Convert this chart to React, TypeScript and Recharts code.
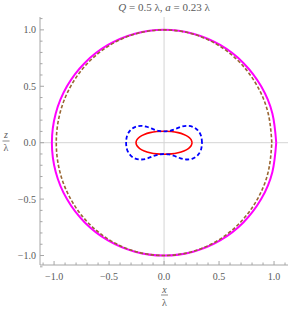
import React from 'react';
import { ScatterChart, Scatter, XAxis, YAxis, ReferenceLine } from 'recharts';

// tick values (major every 0.5, minor every 0.1)
const tickValues = [-1.1, -1, -0.9, -0.8, -0.7, -0.6, -0.5, -0.4, -0.3, -0.2, -0.1, 0, 0.1, 0.2, 0.3, 0.4, 0.5, 0.6, 0.7, 0.8, 0.9, 1, 1.1];

// outer solid curve (magenta)
const magentaCurve = [
  { x: 1.02, y: 0 }, { x: 0.985, y: 0.259 }, { x: 0.883, y: 0.5 }, { x: 0.721, y: 0.707 },
  { x: 0.51, y: 0.866 }, { x: 0.264, y: 0.966 }, { x: 0, y: 1 }, { x: -0.264, y: 0.966 },
  { x: -0.51, y: 0.866 }, { x: -0.721, y: 0.707 }, { x: -0.883, y: 0.5 }, { x: -0.985, y: 0.259 },
  { x: -1.02, y: 0 }, { x: -0.985, y: -0.259 }, { x: -0.883, y: -0.5 }, { x: -0.721, y: -0.707 },
  { x: -0.51, y: -0.866 }, { x: -0.264, y: -0.966 }, { x: 0, y: -1 }, { x: 0.264, y: -0.966 },
  { x: 0.51, y: -0.866 }, { x: 0.721, y: -0.707 }, { x: 0.883, y: -0.5 }, { x: 0.985, y: -0.259 },
  { x: 1.02, y: 0 },
];

// outer dashed curve (brown)
const brownCurve = [
  { x: 0.98, y: 0 }, { x: 0.947, y: 0.259 }, { x: 0.849, y: 0.5 }, { x: 0.693, y: 0.707 },
  { x: 0.49, y: 0.866 }, { x: 0.254, y: 0.966 }, { x: 0, y: 1 }, { x: -0.254, y: 0.966 },
  { x: -0.49, y: 0.866 }, { x: -0.693, y: 0.707 }, { x: -0.849, y: 0.5 }, { x: -0.947, y: 0.259 },
  { x: -0.98, y: 0 }, { x: -0.947, y: -0.259 }, { x: -0.849, y: -0.5 }, { x: -0.693, y: -0.707 },
  { x: -0.49, y: -0.866 }, { x: -0.254, y: -0.966 }, { x: 0, y: -1 }, { x: 0.254, y: -0.966 },
  { x: 0.49, y: -0.866 }, { x: 0.693, y: -0.707 }, { x: 0.849, y: -0.5 }, { x: 0.947, y: -0.259 },
  { x: 0.98, y: 0 },
];

// inner solid curve (red)
const redCurve = [
  { x: 0.255, y: 0 }, { x: 0.246, y: 0.027 }, { x: 0.221, y: 0.052 }, { x: 0.18, y: 0.073 },
  { x: 0.128, y: 0.089 }, { x: 0.066, y: 0.099 }, { x: 0, y: 0.102 }, { x: -0.066, y: 0.099 },
  { x: -0.128, y: 0.089 }, { x: -0.18, y: 0.073 }, { x: -0.221, y: 0.052 }, { x: -0.246, y: 0.027 },
  { x: -0.255, y: 0 }, { x: -0.246, y: -0.027 }, { x: -0.221, y: -0.052 }, { x: -0.18, y: -0.073 },
  { x: -0.128, y: -0.089 }, { x: -0.066, y: -0.099 }, { x: 0, y: -0.102 }, { x: 0.066, y: -0.099 },
  { x: 0.128, y: -0.089 }, { x: 0.18, y: -0.073 }, { x: 0.221, y: -0.052 }, { x: 0.246, y: -0.027 },
  { x: 0.255, y: 0 },
];

// inner dashed curve (blue)
const blueCurve = [
  { x: 0.345, y: 0 }, { x: 0.336, y: 0.062 }, { x: 0.305, y: 0.112 }, { x: 0.26, y: 0.141 },
  { x: 0.205, y: 0.149 }, { x: 0.15, y: 0.139 }, { x: 0.095, y: 0.118 }, { x: 0.045, y: 0.104 },
  { x: 0, y: 0.1 }, { x: -0.045, y: 0.104 }, { x: -0.095, y: 0.118 }, { x: -0.15, y: 0.139 },
  { x: -0.205, y: 0.149 }, { x: -0.26, y: 0.141 }, { x: -0.305, y: 0.112 }, { x: -0.336, y: 0.062 },
  { x: -0.345, y: 0 }, { x: -0.336, y: -0.062 }, { x: -0.305, y: -0.112 }, { x: -0.26, y: -0.141 },
  { x: -0.205, y: -0.149 }, { x: -0.15, y: -0.139 }, { x: -0.095, y: -0.118 }, { x: -0.045, y: -0.104 },
  { x: 0, y: -0.1 }, { x: 0.045, y: -0.104 }, { x: 0.095, y: -0.118 }, { x: 0.15, y: -0.139 },
  { x: 0.205, y: -0.149 }, { x: 0.26, y: -0.141 }, { x: 0.305, y: -0.112 }, { x: 0.336, y: -0.062 },
  { x: 0.345, y: 0 },
];

const FRAME = '#a6a6a6';
const TEXT = '#5a5a5a';
const FONT = 'Liberation Serif, DejaVu Serif, serif';

const isMajor = (v: number) => Math.abs(v * 2 - Math.round(v * 2)) < 1e-6;
const fmt = (v: number) => (v < 0 ? '\u2212' : '') + Math.abs(v).toFixed(1);

const textStyle = { fontFamily: FONT };

const makeTick = (side: 'bottom' | 'left' | 'top' | 'right') => (props: any) => {
  const { x, y, payload } = props;
  const v = payload.value;
  const len = isMajor(v) ? 4 : 2.5;
  if (side === 'bottom') {
    return (
      <g>
        <line x1={x} x2={x} y1={y} y2={y - len} stroke={FRAME} />
        {isMajor(v) && (
          <text x={x} y={y + 14.5} textAnchor="middle" fontSize={10} style={textStyle} fill={TEXT}>{fmt(v)}</text>
        )}
      </g>
    );
  }
  if (side === 'left') {
    return (
      <g>
        <line x1={x} x2={x + len} y1={y} y2={y} stroke={FRAME} />
        {isMajor(v) && (
          <text x={x - 4} y={y + 3.5} textAnchor="end" fontSize={10} style={textStyle} fill={TEXT}>{fmt(v)}</text>
        )}
      </g>
    );
  }
  if (side === 'top') {
    return <line x1={x} x2={x} y1={y} y2={y + len} stroke={FRAME} />;
  }
  return <line x1={x} x2={x - len} y1={y} y2={y} stroke={FRAME} />;
};

const xDomain = [-1.128, 1.127];
const yDomain = [-1.084, 1.114];

const noDot = () => <g />;

export default function App() {
  return (
    <div style={{ position: 'absolute', left: 0, top: 0, width: 294, height: 312, background: '#fff' }}>
      <ScatterChart width={294} height={312} margin={{ top: 17, right: 6, bottom: 0, left: 0 }}>
        <XAxis xAxisId="b" type="number" dataKey="x" domain={xDomain} allowDataOverflow ticks={tickValues} interval={0}
          height={47} tickSize={0} tickMargin={0} tickLine={false} axisLine={{ stroke: FRAME }} tick={makeTick('bottom')} />
        <XAxis xAxisId="t" orientation="top" type="number" dataKey="x" domain={xDomain} allowDataOverflow ticks={tickValues} interval={0}
          height={0} tickSize={0} tickMargin={0} tickLine={false} axisLine={{ stroke: FRAME }} tick={makeTick('top')} />
        <YAxis yAxisId="l" type="number" dataKey="y" domain={yDomain} allowDataOverflow ticks={tickValues} interval={0}
          width={40} tickSize={0} tickMargin={0} tickLine={false} axisLine={{ stroke: FRAME }} tick={makeTick('left')} />
        <YAxis yAxisId="r" orientation="right" type="number" dataKey="y" domain={yDomain} allowDataOverflow ticks={tickValues} interval={0}
          width={0} tickSize={0} tickMargin={0} tickLine={false} axisLine={{ stroke: FRAME }} tick={makeTick('right')} />
        <ReferenceLine xAxisId="b" yAxisId="l" x={0} stroke="#d4d4d4" />
        <ReferenceLine xAxisId="b" yAxisId="l" y={0} stroke="#d4d4d4" />
        <Scatter xAxisId="b" yAxisId="l" data={magentaCurve} isAnimationActive={false} shape={noDot}
          lineJointType="natural" line={{ stroke: '#ff00ff', strokeWidth: 2, fill: 'none' }} />
        <Scatter xAxisId="b" yAxisId="l" data={brownCurve} isAnimationActive={false} shape={noDot}
          lineJointType="natural" line={{ stroke: '#996633', strokeWidth: 1.6, strokeDasharray: '3.5 2', fill: 'none' }} />
        <Scatter xAxisId="b" yAxisId="l" data={redCurve} isAnimationActive={false} shape={noDot}
          lineJointType="natural" line={{ stroke: '#ff0000', strokeWidth: 1.6, fill: 'none' }} />
        <Scatter xAxisId="b" yAxisId="l" data={blueCurve} isAnimationActive={false} shape={noDot}
          lineJointType="natural" line={{ stroke: '#0000ff', strokeWidth: 1.8, strokeDasharray: '4 2.5', fill: 'none' }} />
      </ScatterChart>
      <svg width={294} height={312} style={{ position: 'absolute', left: 0, top: 0, pointerEvents: 'none', fontFamily: FONT }}>
        <text x={164} y={11} textAnchor="middle" fontSize={11} fill={TEXT}>
          <tspan fontStyle="italic">Q</tspan> = 0.5 λ, <tspan fontStyle="italic">a</tspan> = 0.23 λ
        </text>
        <text x={164.5} y={292.5} textAnchor="middle" fontSize={10} fontStyle="italic" fill={TEXT}>x</text>
        <line x1={161} x2={168} y1={295} y2={295} stroke={TEXT} strokeWidth={0.7} />
        <text x={164.5} y={306} textAnchor="middle" fontSize={10} fill={TEXT}>λ</text>
        <text x={6} y={138} textAnchor="middle" fontSize={10} fontStyle="italic" fill={TEXT}>z</text>
        <line x1={2.5} x2={9.5} y1={141} y2={141} stroke={TEXT} strokeWidth={0.7} />
        <text x={6} y={151} textAnchor="middle" fontSize={10} fill={TEXT}>λ</text>
      </svg>
    </div>
  );
}
